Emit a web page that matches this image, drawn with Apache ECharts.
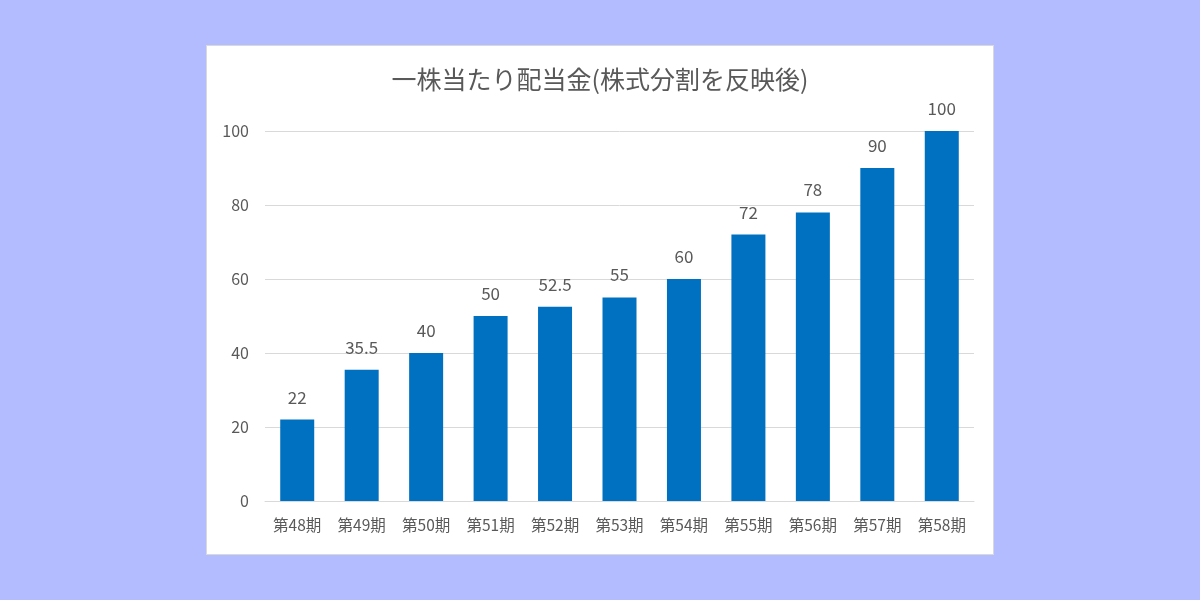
<!DOCTYPE html>
<html>
<head>
<meta charset="utf-8">
<script src="https://cdn.jsdelivr.net/npm/echarts@6/dist/echarts.min.js"></script>
<style>
  html, body { margin: 0; padding: 0; background: #b3bcfe; }
  .card {
    position: absolute;
    left: 206px;
    top: 45px;
    width: 786px;
    height: 508px;
    background: #ffffff;
    border: 1px solid #d9d9d9;
  }
  #chart { position: absolute; left: 0; top: 0; width: 1200px; height: 600px; }
</style>
</head>
<body>
<div class="card"></div>
<div id="chart"></div>
<script>
const categories = ['第48期', '第49期', '第50期', '第51期', '第52期', '第53期', '第54期', '第55期', '第56期', '第57期', '第58期']
const dividends = [22, 35.5, 40, 50, 52.5, 55, 60, 72, 78, 90, 100]

const font = '"Noto Sans CJK JP", "Noto Sans", sans-serif'

const chart = echarts.init(document.getElementById('chart'))

chart.setOption({
  backgroundColor: 'transparent',
  title: {
    text: '一株当たり配当金(株式分割を反映後)',
    left: 'center',
    top: 62,
    textStyle: {
      color: '#595959',
      fontSize: 25,
      fontWeight: 'normal',
      fontFamily: font,
    },
  },
  grid: {
    left: 265,
    right: 226,
    top: 131,
    bottom: 99,
  },
  xAxis: {
    type: 'category',
    data: categories,
    axisLine: { lineStyle: { color: '#d9d9d9' } },
    axisTick: { show: false },
    axisLabel: {
      interval: 0,
      color: '#595959',
      fontSize: 15.5,
      fontFamily: font,
      margin: 16,
    },
  },
  yAxis: {
    type: 'value',
    min: 0,
    max: 100,
    interval: 20,
    axisLine: { show: false },
    axisTick: { show: false },
    splitLine: { lineStyle: { color: '#d9d9d9' } },
    axisLabel: {
      color: '#595959',
      fontSize: 16,
      fontFamily: font,
      margin: 16,
    },
  },
  series: [
    {
      type: 'bar',
      data: dividends,
      barWidth: 34,
      itemStyle: { color: '#0070c0' },
      label: {
        show: true,
        position: 'top',
        distance: 14,
        color: '#595959',
        fontSize: 17,
        fontFamily: font,
      },
    },
  ],
})
</script>
</body>
</html>
